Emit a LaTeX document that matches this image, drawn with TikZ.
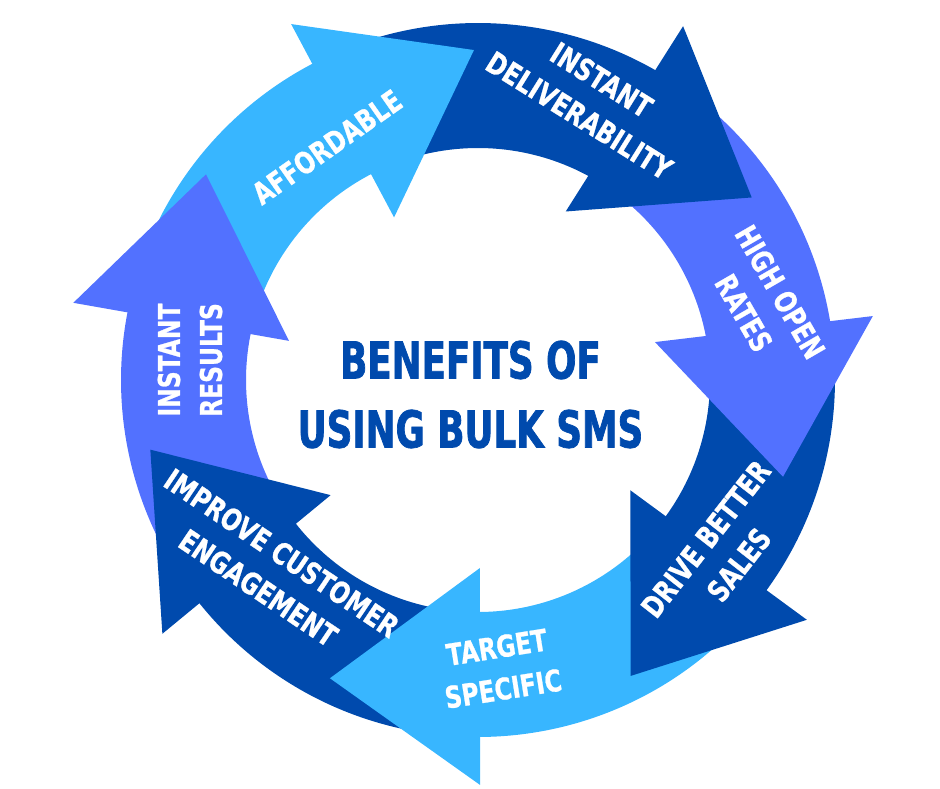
\documentclass[tikz,border=0pt]{standalone}
\usepackage{fontspec}
\newfontfamily\labelfont[FakeStretch=0.78,FakeBold=0.8]{DejaVu Sans}
\newfontfamily\titlefont[FakeStretch=0.70,FakeBold=1.4]{DejaVu Sans}
\definecolor{skyblue}{HTML}{38B6FF}
\definecolor{royalblue}{HTML}{004AAD}
\definecolor{periwinkle}{HTML}{5271FF}

\begin{document}
\begin{tikzpicture}[x=1pt,y=1pt,
                    tag/.style={text=white,align=center,inner sep=0pt}]
\tikzstyle{band}=[draw=none]
\tikzset{font=\labelfont\bfseries\fontsize{30}{42}\selectfont}

  \useasboundingbox (-478,-408) rectangle (462,380);

        % arrow bodies (ring)
        \fill[band, skyblue]    (162.75:357pt) arc[start angle=162.75, end angle=114.5, radius=357pt] -- (114.5:232pt) arc[start angle=114.5, end angle=162.75, radius=232pt] -- cycle;
        \fill[band, royalblue]  (111.5:357pt) arc[start angle=111.5, end angle=58.2, radius=357pt] -- (58.2:232pt) arc[start angle=58.2, end angle=111.5, radius=232pt] -- cycle;
        \fill[band, periwinkle] (55.2:357pt) arc[start angle=55.2, end angle=7.65, radius=357pt] -- (7.65:232pt) arc[start angle=7.65, end angle=55.2, radius=232pt] -- cycle;
        \fill[band, royalblue]  (4.65:357pt) arc[start angle=4.65, end angle=-39, radius=357pt] -- (-39:232pt) arc[start angle=-39, end angle=4.65, radius=232pt] -- cycle;
        \fill[band, skyblue]    (-42:357pt) arc[start angle=-42, end angle=-92.55, radius=357pt] -- (-92.55:232pt) arc[start angle=-92.55, end angle=-42, radius=232pt] -- cycle;
        \fill[band, royalblue]  (-95.55:357pt) arc[start angle=-95.55, end angle=-144.6, radius=357pt] -- (-144.6:232pt) arc[start angle=-144.6, end angle=-95.55, radius=232pt] -- cycle;
        \fill[band, periwinkle] (212.4:357pt) arc[start angle=212.4, end angle=165.75, radius=357pt] -- (165.75:232pt) arc[start angle=165.75, end angle=212.4, radius=232pt] -- cycle;

        % arrow heads
        \fill[band, skyblue]    (117.7:402pt) -- (90.7:330pt) -- (117.3:183pt) -- cycle;
        \fill[band, royalblue]  (59.9:409pt) -- (33.7:329pt) -- (62.5:190pt) -- cycle;
        \fill[band, periwinkle] (9.2:400pt) -- (-17.6:320pt) -- (12.1:181pt) -- cycle;
        \fill[band, royalblue]  (-36.1:407pt) -- (-62.7:333pt) -- (-35.9:188pt) -- cycle;
        \fill[band, skyblue]    (-89.7:405pt) -- (-116.4:333pt) -- (-89.4:188pt) -- cycle;
        \fill[band, royalblue]  (-141.2:405pt) -- (-168:335pt) -- (-142:187pt) -- cycle;
        \fill[band, periwinkle] (169.2:412pt) -- (142.9:341pt) -- (168.3:193pt) -- cycle;

        % labels
        \node[tag, rotate=35]  (afford)   at (-151,233)    {AFFORDABLE};
        \node[tag, rotate=-32] (deliver)  at (112.5,282.5) {INSTANT\\DELIVERABILITY};
        \node[tag, rotate=-60] (openrate) at (284,77.5)    {HIGH OPEN\\RATES};
        \node[tag, rotate=52]  (sales)    at (244.5,-172)  {DRIVE BETTER\\SALES};
        \node[tag, rotate=9]   (target)   at (22,-288)     {TARGET\\SPECIFIC};
        \node[tag, rotate=-34] (engage)   at (-208,-190.5) {IMPROVE CUSTOMER\\ENGAGEMENT};
        \node[tag, rotate=90]  (results)  at (-288,20)     {INSTANT\\RESULTS};

        \node[text=royalblue, align=center, inner sep=0pt, font=\titlefont\bfseries\fontsize{51}{69}\selectfont] (title) at (-7.5,-14.5) {BENEFITS OF\\USING BULK SMS};

\end{tikzpicture}
\end{document}
